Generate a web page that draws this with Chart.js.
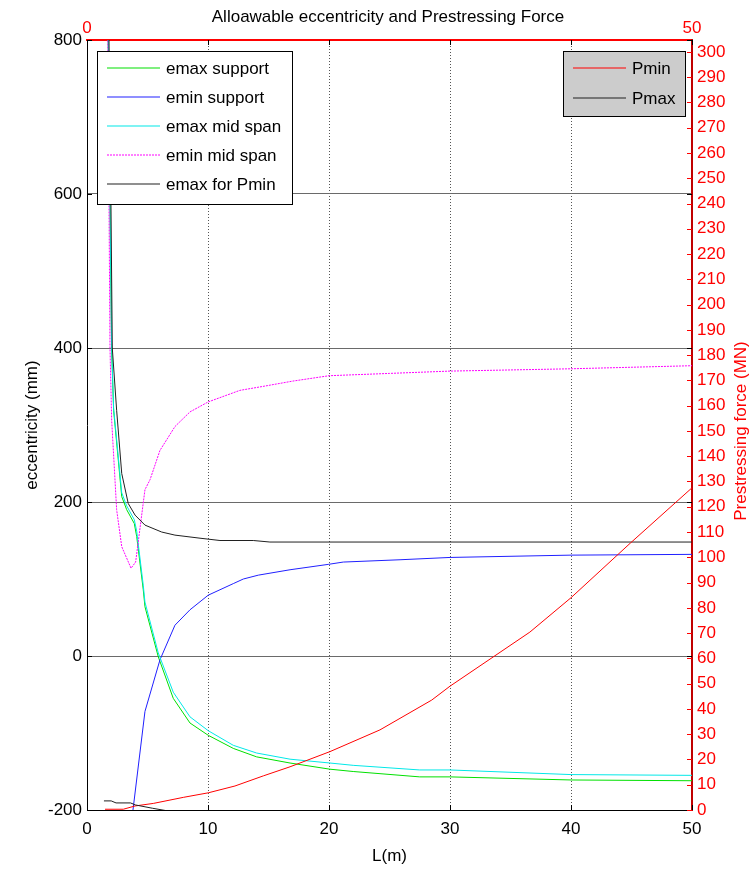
<!DOCTYPE html>
<html>
<head>
<meta charset="utf-8">
<script src="https://cdn.jsdelivr.net/npm/chart.js@4.4.0/dist/chart.umd.min.js"></script>
<style>
  html, body { margin: 0; padding: 0; background: #fff; }
  #wrap { width: 753px; height: 870px; }
</style>
</head>
<body>
<div id="wrap"><canvas id="c" width="753" height="870"></canvas></div>
<script>
// Span length L (m) and allowable eccentricity (mm) for each limit curve
const emaxSupportL = [1.72, 1.9, 2.03, 2.2, 2.87, 3.28, 3.91, 4.11, 4.65, 4.79, 5.89, 7.13, 8.51, 10.02, 12.09, 14.02, 16.78, 20.08, 22, 27.5, 30, 40, 50];
const emaxSupport  = [850, 586, 400, 319, 207, 190, 172, 155, 86, 64, -1, -55, -87, -103, -120, -131, -139, -147, -150, -157, -157, -161, -162];

const eminSupportL = [3.8, 4.79, 6.03, 7.27, 8.51, 10.02, 12.09, 12.92, 14.16, 16.78, 19.94, 21.18, 25.87, 30, 40, 50];
const eminSupport  = [-200, -72, -5, 40, 60, 79, 94, 100, 105, 112, 119, 122, 125, 128, 131, 132];

const emaxMidL = [1.72, 1.9, 2.03, 2.2, 2.87, 3.28, 3.91, 4.11, 4.65, 4.79, 5.89, 7.13, 8.51, 10.02, 12.09, 14.02, 16.78, 20.08, 22, 27.5, 30, 40, 50];
const emaxMid  = [850, 590, 405, 322, 212, 195, 177, 162, 92, 70, 4, -47, -79, -97, -116, -126, -134, -139, -142, -148, -148, -154, -155];

const eminMidL = [1.7, 1.82, 1.9, 2.04, 2.45, 2.87, 3.64, 4.02, 4.79, 5.21, 6.03, 7.27, 8.51, 10.02, 12.64, 14.5, 17, 20, 25, 30, 40, 50];
const eminMid  = [850, 586, 400, 306, 190, 142, 114, 122, 216, 229, 267, 298, 317, 330, 345, 350, 357, 364, 367, 370, 373, 377];

const emaxPminL = [1.78, 1.98, 2.09, 2.45, 2.87, 3.41, 3.97, 4.79, 6.17, 7.27, 9.34, 10.99, 13.74, 15.12, 20, 30, 40, 50];
const emaxPmin  = [850, 586, 400, 319, 237, 198, 183, 170, 161, 157, 153, 150, 150, 148, 148, 148, 148, 148];

// Prestressing force (MN) against span length
const pminL = [1.49, 3.0, 3.97, 5.48, 7.96, 10.02, 12.23, 14.57, 16.78, 20.08, 24.21, 28.49, 30, 36.6, 40, 44.9, 50];
const pmin  = [0.3, 0.3, 1.6, 2.6, 5.0, 6.8, 9.5, 13.5, 17.1, 23.1, 31.7, 43.5, 49, 70.4, 84, 105.6, 127.5];

const pmaxL = [1.4, 2.0, 2.4, 3.6, 4.0, 5.4, 6.6, 7.5];
const pmax  = [3.6, 3.6, 2.8, 2.8, 2.0, 0.7, -0.3, -1.2];

// Tick values
const lTicks = [0, 10, 20, 30, 40, 50];
const lTopTicks = [0, 50];
const eTicks = [-200, 0, 200, 400, 600, 800];
const forceTicks = [0, 10, 20, 30, 40, 50, 60, 70, 80, 90, 100, 110, 120, 130, 140, 150,
                    160, 170, 180, 190, 200, 210, 220, 230, 240, 250, 260, 270, 280, 290, 300];

const FONT = '"Liberation Sans", Arial, Helvetica, sans-serif';
Chart.defaults.font.family = FONT;
Chart.defaults.font.size = 17;
Chart.defaults.color = '#000';

const pts = (xs, ys) => xs.map((x, i) => ({ x: x, y: ys[i] }));

function series(label, xs, ys, color, axis, extra) {
  return Object.assign({
    label: label,
    data: pts(xs, ys),
    borderColor: color,
    backgroundColor: color,
    borderWidth: 1,
    pointRadius: 0,
    fill: false,
    tension: 0,
    xAxisID: 'x',
    yAxisID: axis
  }, extra || {});
}

const datasets = [
  series('emax support', emaxSupportL, emaxSupport, '#00e000', 'y'),
  series('emin support', eminSupportL, eminSupport, '#2020ff', 'y'),
  series('emax mid span', emaxMidL, emaxMid, '#00e8e8', 'y'),
  series('emin mid span', eminMidL, eminMid, '#ff00ff', 'y', { borderDash: [2, 1] }),
  series('emax for Pmin', emaxPminL, emaxPmin, '#202020', 'y'),
  series('Pmin', pminL, pmin, '#ff0000', 'y2'),
  series('Pmax', pmaxL, pmax, '#202020', 'y2')
];
// later curves are painted over earlier ones
datasets.forEach((d, i) => { d.order = -i; });

function fixedTicks(values) {
  return function (scale) { scale.ticks = values.map(v => ({ value: v })); };
}

function drawLegend(ctx, items, box) {
  ctx.save();
  ctx.fillStyle = box.fill;
  ctx.fillRect(box.x, box.y, box.w, box.h);
  ctx.strokeStyle = '#000';
  ctx.lineWidth = 1;
  ctx.setLineDash([]);
  ctx.strokeRect(box.x + 0.5, box.y + 0.5, box.w, box.h);
  ctx.font = '17px ' + FONT;
  ctx.textBaseline = 'middle';
  ctx.textAlign = 'left';
  items.forEach((ds, i) => {
    const y = Math.round(box.y + box.first + i * box.step);
    ctx.strokeStyle = ds.borderColor;
    ctx.lineWidth = 1.2;
    ctx.setLineDash(ds.borderDash || []);
    ctx.beginPath();
    ctx.moveTo(box.x + 10, y);
    ctx.lineTo(box.x + 63, y);
    ctx.stroke();
    ctx.setLineDash([]);
    ctx.fillStyle = '#000';
    ctx.fillText(ds.label, box.x + 69, y + 1);
  });
  ctx.restore();
}

const decorations = {
  id: 'decorations',
  afterDatasetsDraw(chart) {
    const { ctx, chartArea: a, scales } = chart;
    const tl = 5;
    ctx.save();
    ctx.lineWidth = 1;
    ctx.setLineDash([]);
    // inward tick marks of the eccentricity / span box
    ctx.strokeStyle = '#000';
    ctx.beginPath();
    eTicks.forEach(v => {
      const y = Math.round(scales.y.getPixelForValue(v)) + 0.5;
      ctx.moveTo(a.left, y); ctx.lineTo(a.left + tl, y);
      ctx.moveTo(a.right, y); ctx.lineTo(a.right - tl, y);
    });
    lTicks.forEach(v => {
      const x = Math.round(scales.x.getPixelForValue(v)) + 0.5;
      ctx.moveTo(x, a.bottom); ctx.lineTo(x, a.bottom - tl);
      ctx.moveTo(x, a.top); ctx.lineTo(x, a.top + tl);
    });
    ctx.stroke();
    // inward tick marks of the force axis
    ctx.strokeStyle = '#ff0000';
    ctx.beginPath();
    forceTicks.forEach(v => {
      const y = Math.round(scales.y2.getPixelForValue(v)) + 0.5;
      ctx.moveTo(a.right, y); ctx.lineTo(a.right - tl, y);
    });
    ctx.stroke();
    ctx.restore();

    const ds = chart.data.datasets;
    drawLegend(ctx, ds.filter(d => d.yAxisID === 'y'),
      { x: 97, y: 51, w: 195, h: 153, first: 17, step: 29, fill: '#ffffff' });
    drawLegend(ctx, ds.filter(d => d.yAxisID === 'y2'),
      { x: 563, y: 51, w: 122, h: 65, first: 17, step: 30, fill: '#cccccc' });
  },
  afterDraw(chart) {
    const { ctx, chartArea: a } = chart;
    ctx.save();
    ctx.fillStyle = '#000';
    ctx.font = '17px ' + FONT;
    ctx.textAlign = 'center';
    ctx.textBaseline = 'middle';
    ctx.fillText('Alloawable eccentricity and Prestressing Force', 388, 17);
    // right axis title, reading bottom to top
    ctx.fillStyle = '#ff0000';
    ctx.translate(741, (a.top + a.bottom) / 2 + 6);
    ctx.rotate(-Math.PI / 2);
    ctx.fillText('Prestressing force (MN)', 0, 0);
    ctx.restore();
  }
};

new Chart(document.getElementById('c'), {
  type: 'line',
  data: { datasets: datasets },
  plugins: [decorations],
  options: {
    responsive: false,
    devicePixelRatio: 1,
    animation: false,
    layout: { padding: 0 },
    plugins: {
      legend: { display: false },
      title: { display: false },
      tooltip: { enabled: false }
    },
    scales: {
      x: {
        type: 'linear', position: 'bottom', min: 0, max: 50,
        afterBuildTicks: fixedTicks(lTicks),
        afterFit: s => { s.height = 60; },
        ticks: { color: '#000', padding: 9, maxRotation: 0, autoSkip: false },
        grid: { color: '#555', lineWidth: 1, drawTicks: false },
        border: { color: '#000', width: 1, dash: [1, 2] },
        title: { display: true, text: 'L(m)', color: '#000', font: { size: 17 }, padding: { top: 0, bottom: 3 } }
      },
      x2: {
        type: 'linear', position: 'top', min: 0, max: 50,
        afterBuildTicks: fixedTicks(lTopTicks),
        afterFit: s => { s.height = 40; },
        ticks: { color: '#ff0000', padding: 1, maxRotation: 0, autoSkip: false },
        grid: { drawOnChartArea: false, drawTicks: false },
        border: { color: '#ff0000', width: 2 }
      },
      y: {
        type: 'linear', position: 'left', min: -200, max: 800,
        afterBuildTicks: fixedTicks(eTicks),
        afterFit: s => { s.width = 87; },
        ticks: { color: '#000', padding: 5, autoSkip: false },
        grid: { color: '#6a6a6a', lineWidth: 1, drawTicks: false },
        border: { color: '#000', width: 1 },
        title: { display: true, text: 'eccentricity (mm)', color: '#000', font: { size: 17 }, padding: { top: 22, bottom: 0 } }
      },
      y2: {
        type: 'linear', position: 'right', min: 0, max: 304.7,
        afterBuildTicks: fixedTicks(forceTicks),
        afterFit: s => { s.width = 61; },
        ticks: { color: '#ff0000', padding: 5, autoSkip: false },
        grid: { drawOnChartArea: false, drawTicks: false },
        border: { color: '#c00000', width: 2 }
      }
    }
  }
});
</script>
</body>
</html>
